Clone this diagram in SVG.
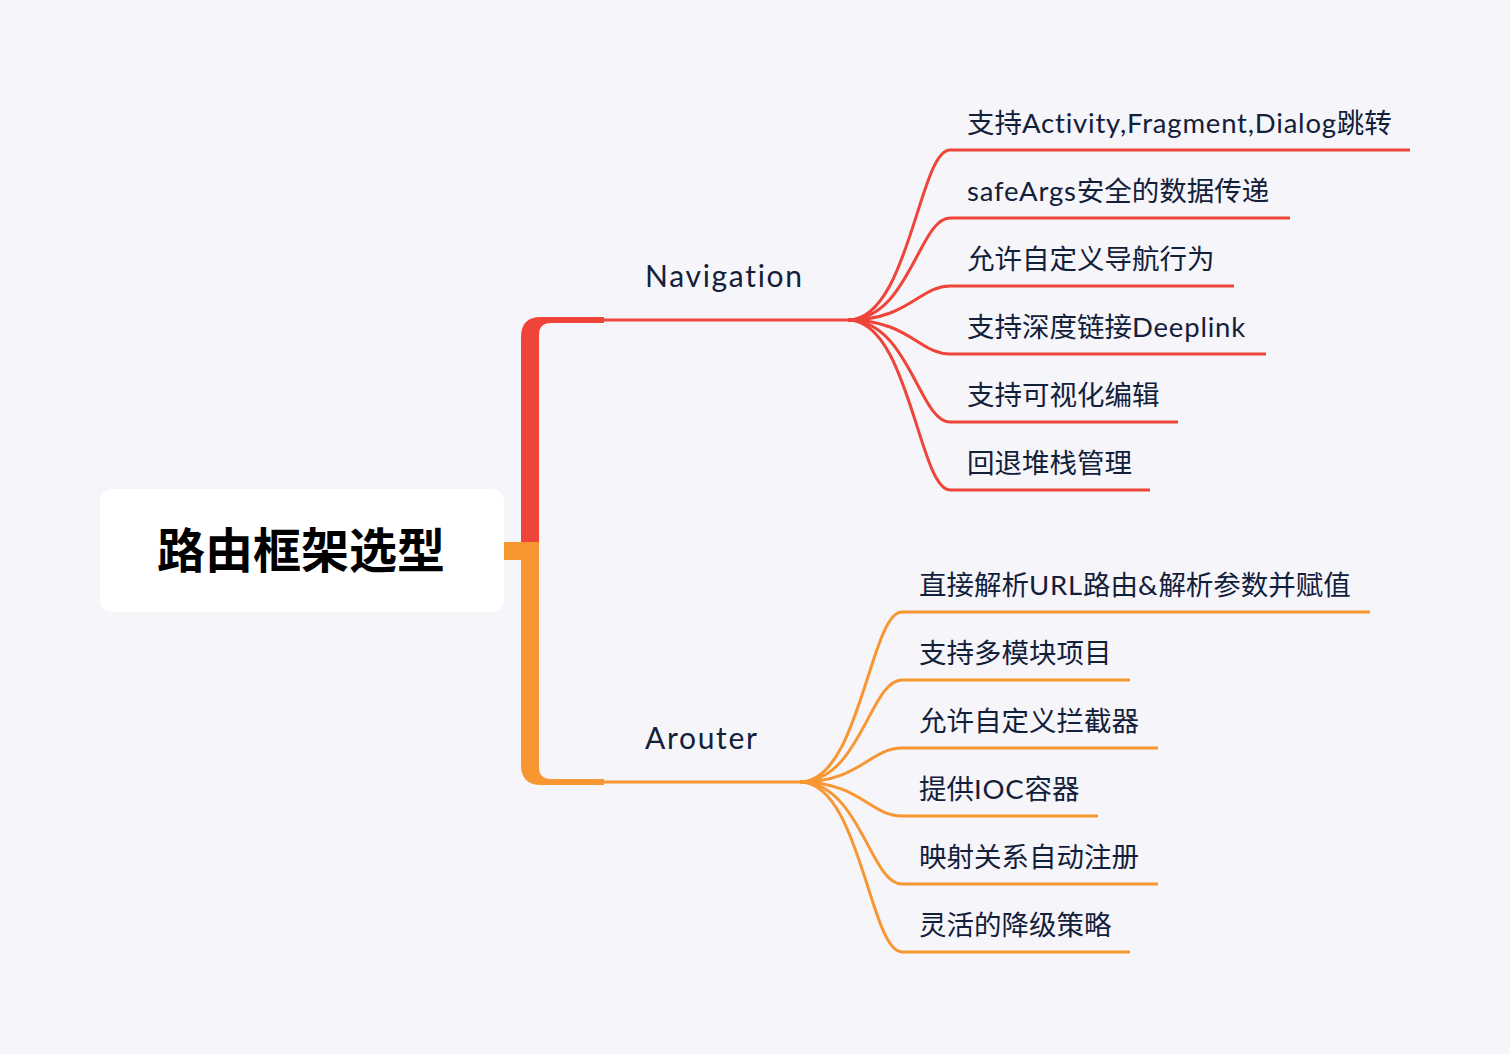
<svg xmlns="http://www.w3.org/2000/svg" width="1510" height="1054" viewBox="0 0 1510 1054">
<style>
.bg{fill:#F5F5FA}
.root{fill:#FFFFFF}
.roott{font-family:"Noto Sans CJK SC","Noto Sans",sans-serif;font-weight:700;font-size:48px;fill:#000000}
.main{font-family:Lato,"Noto Sans CJK SC",sans-serif;font-size:30px;letter-spacing:1.7px;fill:#13203A}
.sub{font-family:Lato,"Noto Sans CJK SC",sans-serif;font-size:27.5px;fill:#13203A}
.lat{letter-spacing:0.8px}
.r{stroke:#EF4439;fill:none;stroke-width:3}
.o{stroke:#F89631;fill:none;stroke-width:3}
.rf{fill:#EF4439}
.of{fill:#F89631}
</style>
<rect class="bg" x="0" y="0" width="1510" height="1054"/>
<g id="connectors">
  <path class="rf" d="M521,542 L521,337 Q521,317 541,317 L604,317 L604,323 L551,323 Q539,323 539,335 L539,542 Z"/>
  <path class="of" d="M504,542 L539,542 L539,767 Q539,779 551,779 L604,779 L604,785 L541,785 Q521,785 521,765 L521,560 L504,560 Z"/>
  <path class="r" stroke-width="3.5" d="M603,320 L849,320"/>
  <path class="o" stroke-width="3.5" d="M603,782 L801,782"/>
  <path class="r" d="M848,320 C909,320 919,150 950,150 L1410,150"/>
  <path class="r" d="M848,320 C909,320 919,218 950,218 L1290,218"/>
  <path class="r" d="M848,320 C909,320 919,286 950,286 L1234,286"/>
  <path class="r" d="M848,320 C909,320 919,354 950,354 L1266,354"/>
  <path class="r" d="M848,320 C909,320 919,422 950,422 L1178,422"/>
  <path class="r" d="M848,320 C909,320 919,490 950,490 L1150,490"/>
  <path class="o" d="M800,782 C860,782 870,612 902,612 L1370,612"/>
  <path class="o" d="M800,782 C860,782 870,680 902,680 L1130,680"/>
  <path class="o" d="M800,782 C860,782 870,748 902,748 L1158,748"/>
  <path class="o" d="M800,782 C860,782 870,816 902,816 L1098,816"/>
  <path class="o" d="M800,782 C860,782 870,884 902,884 L1158,884"/>
  <path class="o" d="M800,782 C860,782 870,952 902,952 L1130,952"/>
</g>
<g id="root">
  <rect class="root" x="100" y="489" width="404" height="123" rx="12"/>
  <text class="roott" x="301" y="568" text-anchor="middle">路由框架选型</text>
</g>
<g id="navigation"><text class="main" x="645" y="287">Navigation</text></g>
<g id="arouter"><text class="main" x="645" y="749">Arouter</text></g>
<g id="n1"><text class="sub" x="967" y="133">支持<tspan class="lat">Activity,Fragment,Dialog</tspan>跳转</text></g>
<g id="n2"><text class="sub" x="967" y="201"><tspan class="lat">safeArgs</tspan>安全的数据传递</text></g>
<g id="n3"><text class="sub" x="967" y="269">允许自定义导航行为</text></g>
<g id="n4"><text class="sub" x="967" y="337">支持深度链接<tspan class="lat">Deeplink</tspan></text></g>
<g id="n5"><text class="sub" x="967" y="405">支持可视化编辑</text></g>
<g id="n6"><text class="sub" x="967" y="473">回退堆栈管理</text></g>
<g id="a1"><text class="sub" x="919" y="595">直接解析<tspan class="lat">URL</tspan>路由<tspan class="lat">&amp;</tspan>解析参数并赋值</text></g>
<g id="a2"><text class="sub" x="919" y="663">支持多模块项目</text></g>
<g id="a3"><text class="sub" x="919" y="731">允许自定义拦截器</text></g>
<g id="a4"><text class="sub" x="919" y="799">提供<tspan class="lat">IOC</tspan>容器</text></g>
<g id="a5"><text class="sub" x="919" y="867">映射关系自动注册</text></g>
<g id="a6"><text class="sub" x="919" y="935">灵活的降级策略</text></g>
</svg>
